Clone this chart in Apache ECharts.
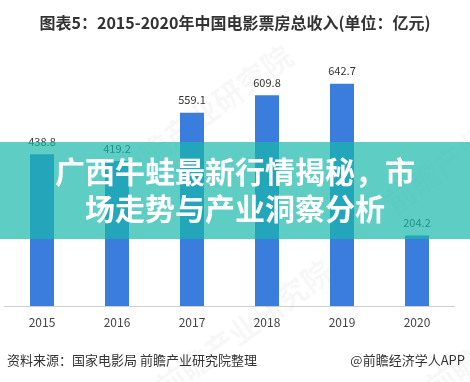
<!DOCTYPE html>
<html>
<head>
<meta charset="utf-8">
<script src="https://cdn.jsdelivr.net/npm/echarts@6/dist/echarts.min.js"></script>
<style>html,body{margin:0;padding:0;background:#fff;}#c{width:470px;height:382px;}</style>
</head>
<body>
<div id="c"></div>
<script>
var categories = ['2015', '2016', '2017', '2018', '2019', '2020'];
var boxOffice = [438.8, 419.2, 559.1, 609.8, 642.7, 204.2];
var titleText = '图表5：2015-2020年中国电影票房总收入(单位：亿元)';
var sourceText = '资料来源：国家电影局 前瞻产业研究院整理';
var brandText = '@前瞻经济学人APP';
var overlayLine1 = '广西牛蛙最新行情揭秘，市';
var overlayLine2 = '场走势与产业洞察分析';
var watermark = '前瞻产业研究院';

var chart = echarts.init(document.getElementById('c'), null, {renderer: 'canvas'});
var font = '"Microsoft YaHei","Noto Sans CJK SC",sans-serif';
function wm(x, y) {
  return {type: 'text', left: x, top: y, rotation: Math.PI / 5, z: 1,
    style: {text: watermark, fill: 'rgba(0,0,0,0.03)', font: 'bold 30px ' + font}};
}
chart.setOption({
  animation: false,
  title: {
    text: titleText, left: 'center', top: 10,
    textStyle: {fontSize: 16, fontWeight: 'bold', color: '#333', fontFamily: font}
  },
  grid: {left: 4.5, right: 15.5, top: 64, bottom: 76},
  xAxis: {
    type: 'category', data: categories,
    axisLine: {lineStyle: {color: '#d0d0d0'}},
    axisTick: {show: false},
    axisLabel: {color: '#444', fontSize: 12, margin: 10, fontFamily: font}
  },
  yAxis: {type: 'value', min: 0, max: 700, show: false, splitLine: {show: false}},
  series: [{
    type: 'bar', data: boxOffice, barWidth: 24,
    itemStyle: {color: '#3b7ddd'},
    label: {show: true, position: 'top', distance: 7, color: '#333', fontSize: 11, fontFamily: font}
  }],
  graphic: [
    {type: 'group', z: 1, children: [wm(110, 40), wm(380, 70), wm(150, 255), wm(420, 255)]},
    {type: 'rect', z: 100, shape: {x: 0, y: 142, width: 470, height: 97},
      style: {fill: 'rgba(26,184,169,0.7)'}},
    {type: 'text', z: 101, left: 'center', top: 157,
      style: {text: overlayLine1, fill: '#fff', font: 'bold 30px ' + font,
        shadowColor: 'rgba(0,0,0,0.25)', shadowBlur: 3, shadowOffsetY: 1}},
    {type: 'text', z: 101, left: 'center', top: 194,
      style: {text: overlayLine2, fill: '#fff', font: 'bold 30px ' + font,
        shadowColor: 'rgba(0,0,0,0.25)', shadowBlur: 3, shadowOffsetY: 1}},
    {type: 'text', z: 101, left: 7, top: 354,
      style: {text: sourceText, fill: '#333', font: '13px ' + font}},
    {type: 'text', z: 101, right: 5, top: 354,
      style: {text: brandText, fill: '#333', font: '13px ' + font}}
  ]
});
</script>
</body>
</html>
